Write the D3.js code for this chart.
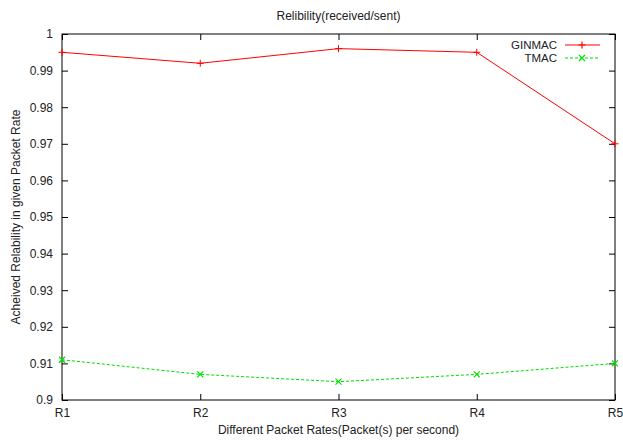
<!DOCTYPE html>
<html>
<head>
<meta charset="utf-8">
<script src="https://cdn.jsdelivr.net/npm/d3@7"></script>
<style>
  body { margin: 0; background: #fff; }
  text { font-family: "Liberation Sans", Arial, sans-serif; fill: #222; }
</style>
</head>
<body>
<svg id="chart"></svg>
<script>
const WIDTH = 623;
const HEIGHT = 442;

// data
const rates = ["R1", "R2", "R3", "R4", "R5"];
const ginmac = [0.995, 0.992, 0.996, 0.995, 0.970];
const tmac = [0.911, 0.907, 0.905, 0.907, 0.910];
const yTicks = [0.9, 0.91, 0.92, 0.93, 0.94, 0.95, 0.96, 0.97, 0.98, 0.99, 1];

const margin = { top: 34, right: 8, bottom: 42, left: 62 };
const TICK = 6;

const svg = d3.select("#chart")
  .attr("width", WIDTH)
  .attr("height", HEIGHT);

const x = d3.scalePoint()
  .domain(rates)
  .range([margin.left, WIDTH - margin.right]);

const y = d3.scaleLinear()
  .domain([0.9, 1])
  .range([HEIGHT - margin.bottom, margin.top]);

const fmt = d => d === 1 ? "1" : d === 0.9 ? "0.9" : d3.format(".2f")(d);

// axes: gnuplot style, ticks inward on all sides
svg.append("g")
  .attr("transform", `translate(0,${HEIGHT - margin.bottom})`)
  .call(d3.axisBottom(x).tickSizeInner(-TICK).tickSizeOuter(0).tickPadding(8))
  .call(g => g.select(".domain").remove());

svg.append("g")
  .attr("transform", `translate(0,${margin.top})`)
  .call(d3.axisTop(x).tickSizeInner(-TICK).tickSizeOuter(0).tickFormat(""))
  .call(g => g.select(".domain").remove());

svg.append("g")
  .attr("transform", `translate(${margin.left},0)`)
  .call(d3.axisLeft(y).tickValues(yTicks).tickFormat(fmt).tickSizeInner(-TICK).tickSizeOuter(0).tickPadding(9))
  .call(g => g.select(".domain").remove());

svg.append("g")
  .attr("transform", `translate(${WIDTH - margin.right},0)`)
  .call(d3.axisRight(y).tickValues(yTicks).tickFormat("").tickSizeInner(-TICK).tickSizeOuter(0))
  .call(g => g.select(".domain").remove());

svg.selectAll(".tick line").attr("stroke", "#000");
svg.selectAll(".tick text")
  .attr("font-size", "12px")
  .style("font-family", "'Liberation Sans', Arial, sans-serif")
  .attr("fill", "#222");

// frame
svg.append("rect")
  .attr("x", margin.left)
  .attr("y", margin.top)
  .attr("width", WIDTH - margin.left - margin.right)
  .attr("height", HEIGHT - margin.top - margin.bottom)
  .attr("fill", "none")
  .attr("stroke", "#000")
  .attr("stroke-width", 1);

const line = d3.line()
  .x((d, i) => x(rates[i]))
  .y(d => y(d));

// GINMAC
svg.append("path")
  .datum(ginmac)
  .attr("fill", "none")
  .attr("stroke", "#ff0000")
  .attr("stroke-width", 1)
  .attr("d", line);

svg.append("g")
  .selectAll("path")
  .data(ginmac)
  .join("path")
  .attr("transform", (d, i) => `translate(${x(rates[i])},${y(d)})`)
  .attr("d", "M-3.5,0H3.5M0,-3.5V3.5")
  .attr("stroke", "#ff0000")
  .attr("stroke-width", 1);

// TMAC
svg.append("path")
  .datum(tmac)
  .attr("fill", "none")
  .attr("stroke", "#00dd00")
  .attr("stroke-width", 1)
  .attr("stroke-dasharray", "3,2")
  .attr("d", line);

svg.append("g")
  .selectAll("path")
  .data(tmac)
  .join("path")
  .attr("transform", (d, i) => `translate(${x(rates[i])},${y(d)})`)
  .attr("d", "M-3,-3L3,3M-3,3L3,-3")
  .attr("stroke", "#00dd00")
  .attr("stroke-width", 1.2);

// legend
const legend = [
  { name: "GINMAC", color: "#ff0000", dash: null, marker: "M-3.5,0H3.5M0,-3.5V3.5", y: 45 },
  { name: "TMAC", color: "#00dd00", dash: "3,2", marker: "M-3,-3L3,3M-3,3L3,-3", y: 58 }
];

const lg = svg.append("g")
  .selectAll("g")
  .data(legend)
  .join("g");

lg.append("text")
  .attr("x", 557)
  .attr("y", d => d.y + 4)
  .attr("text-anchor", "end")
  .attr("font-size", "11.5px")
  .text(d => d.name);

lg.append("line")
  .attr("x1", 565)
  .attr("x2", 600)
  .attr("y1", d => d.y)
  .attr("y2", d => d.y)
  .attr("stroke", d => d.color)
  .attr("stroke-dasharray", d => d.dash);

lg.append("path")
  .attr("transform", d => `translate(582,${d.y})`)
  .attr("d", d => d.marker)
  .attr("stroke", d => d.color)
  .attr("stroke-width", 1.2);

// titles
svg.append("text")
  .attr("x", (margin.left + WIDTH - margin.right) / 2)
  .attr("y", 20)
  .attr("text-anchor", "middle")
  .attr("font-size", "12px")
  .text("Relibility(received/sent)");

svg.append("text")
  .attr("x", (margin.left + WIDTH - margin.right) / 2)
  .attr("y", 434)
  .attr("text-anchor", "middle")
  .attr("font-size", "12px")
  .text("Different Packet Rates(Packet(s) per second)");

svg.append("text")
  .attr("transform", `translate(20,${(margin.top + HEIGHT - margin.bottom) / 2}) rotate(-90)`)
  .attr("text-anchor", "middle")
  .attr("font-size", "12px")
  .text("Acheived Relability in given Packet Rate");
</script>
</body>
</html>
